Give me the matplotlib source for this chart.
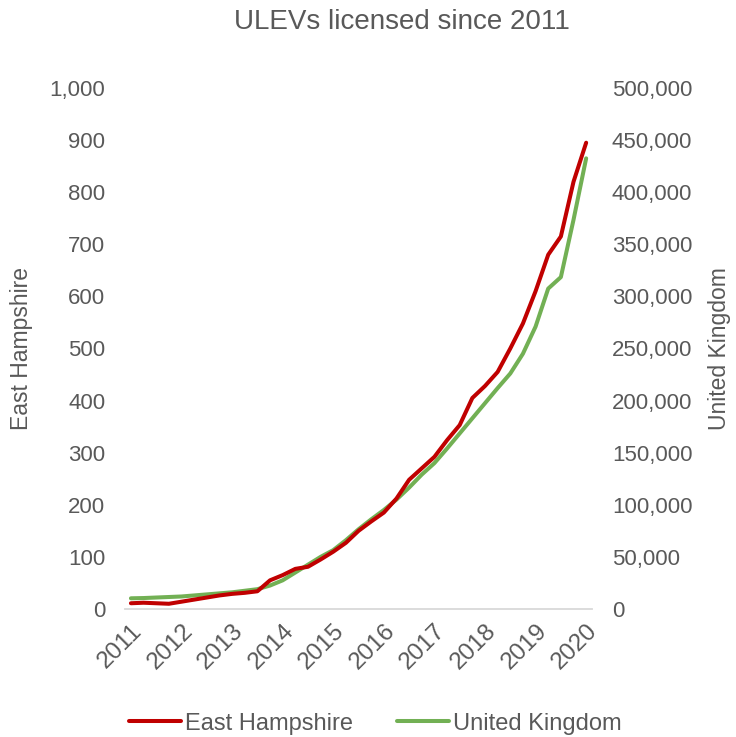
import matplotlib.pyplot as plt
from matplotlib.ticker import FuncFormatter

plt.rcParams['font.family'] = ['Liberation Sans', 'DejaVu Sans']

# quarterly counts, 2011 Q1 .. 2020 Q1
years = [str(y) for y in range(2011, 2021)]
east_hants = [11, 12, 11, 10, 14, 18, 22, 26, 29, 31, 34, 55, 65, 77, 81, 95,
              110, 127, 150, 168, 185, 212, 248, 270, 292, 324, 353, 405, 428,
              455, 500, 548, 610, 680, 715, 820, 895]
uk = [10250, 10500, 11000, 11500, 12000, 13000, 14000, 15000, 16000, 17500,
      19000, 22500, 27500, 35000, 42500, 50000, 56500, 66000, 76500, 86000,
      95000, 105000, 116500, 129000, 140000, 154000, 168500, 183000, 197500,
      212000, 226000, 245000, 271000, 307500, 318500, 373500, 432500]

grey = '#595959'
red = '#C00000'
green = '#72B054'

fig = plt.figure(figsize=(7.36, 7.37), dpi=100)
ax = fig.add_axes([0.1693, 0.1737, 0.6357, 0.7069])
ax2 = ax.twinx()

x = list(range(len(east_hants)))
l1, = ax.plot(x, east_hants, color=red, lw=2.9, solid_capstyle='round', zorder=3)
l2, = ax2.plot(x, uk, color=green, lw=2.9, solid_capstyle='round', zorder=2)
ax.set_zorder(ax2.get_zorder() + 1)
ax.patch.set_visible(False)

ax.set_xlim(-0.5, len(east_hants) - 0.5)
ax.set_ylim(0, 1000)
ax2.set_ylim(0, 500000)
ax.set_yticks(range(0, 1001, 100))
ax2.set_yticks(range(0, 500001, 50000))
ax.yaxis.set_major_formatter(FuncFormatter(lambda v, p: f'{int(v):,}'))
ax2.yaxis.set_major_formatter(FuncFormatter(lambda v, p: f'{int(v):,}'))

ax.set_xticks(range(0, len(east_hants), 4))
ax.set_xticklabels(years, rotation=45, ha='right', rotation_mode='anchor')

for a in (ax, ax2):
    for s in a.spines.values():
        s.set_visible(False)
    a.tick_params(length=0, labelsize=16, colors=grey)
ax.spines['bottom'].set_visible(True)
ax.spines['bottom'].set_color('#D9D9D9')
ax.spines['bottom'].set_linewidth(1.3)
ax.tick_params(axis='y', pad=14)
ax2.tick_params(axis='y', pad=14)
ax.tick_params(axis='x', pad=8, labelsize=17.5)

ax.set_ylabel('East Hampshire', fontsize=16.5, color=grey, labelpad=12)
ax2.set_ylabel('United Kingdom', fontsize=16.5, color=grey, labelpad=11)

fig.text(0.546, 0.97, 'ULEVs licensed since 2011', ha='center', va='center',
         fontsize=20, color=grey)

fig.legend([l1, l2], ['East Hampshire', 'United Kingdom'], loc='center',
           bbox_to_anchor=(0.51, 0.018), ncol=2, frameon=False, fontsize=17,
           labelcolor=grey, handlelength=2.2, handletextpad=0.15, columnspacing=1.9)

fig.savefig('out.png', dpi=100)
